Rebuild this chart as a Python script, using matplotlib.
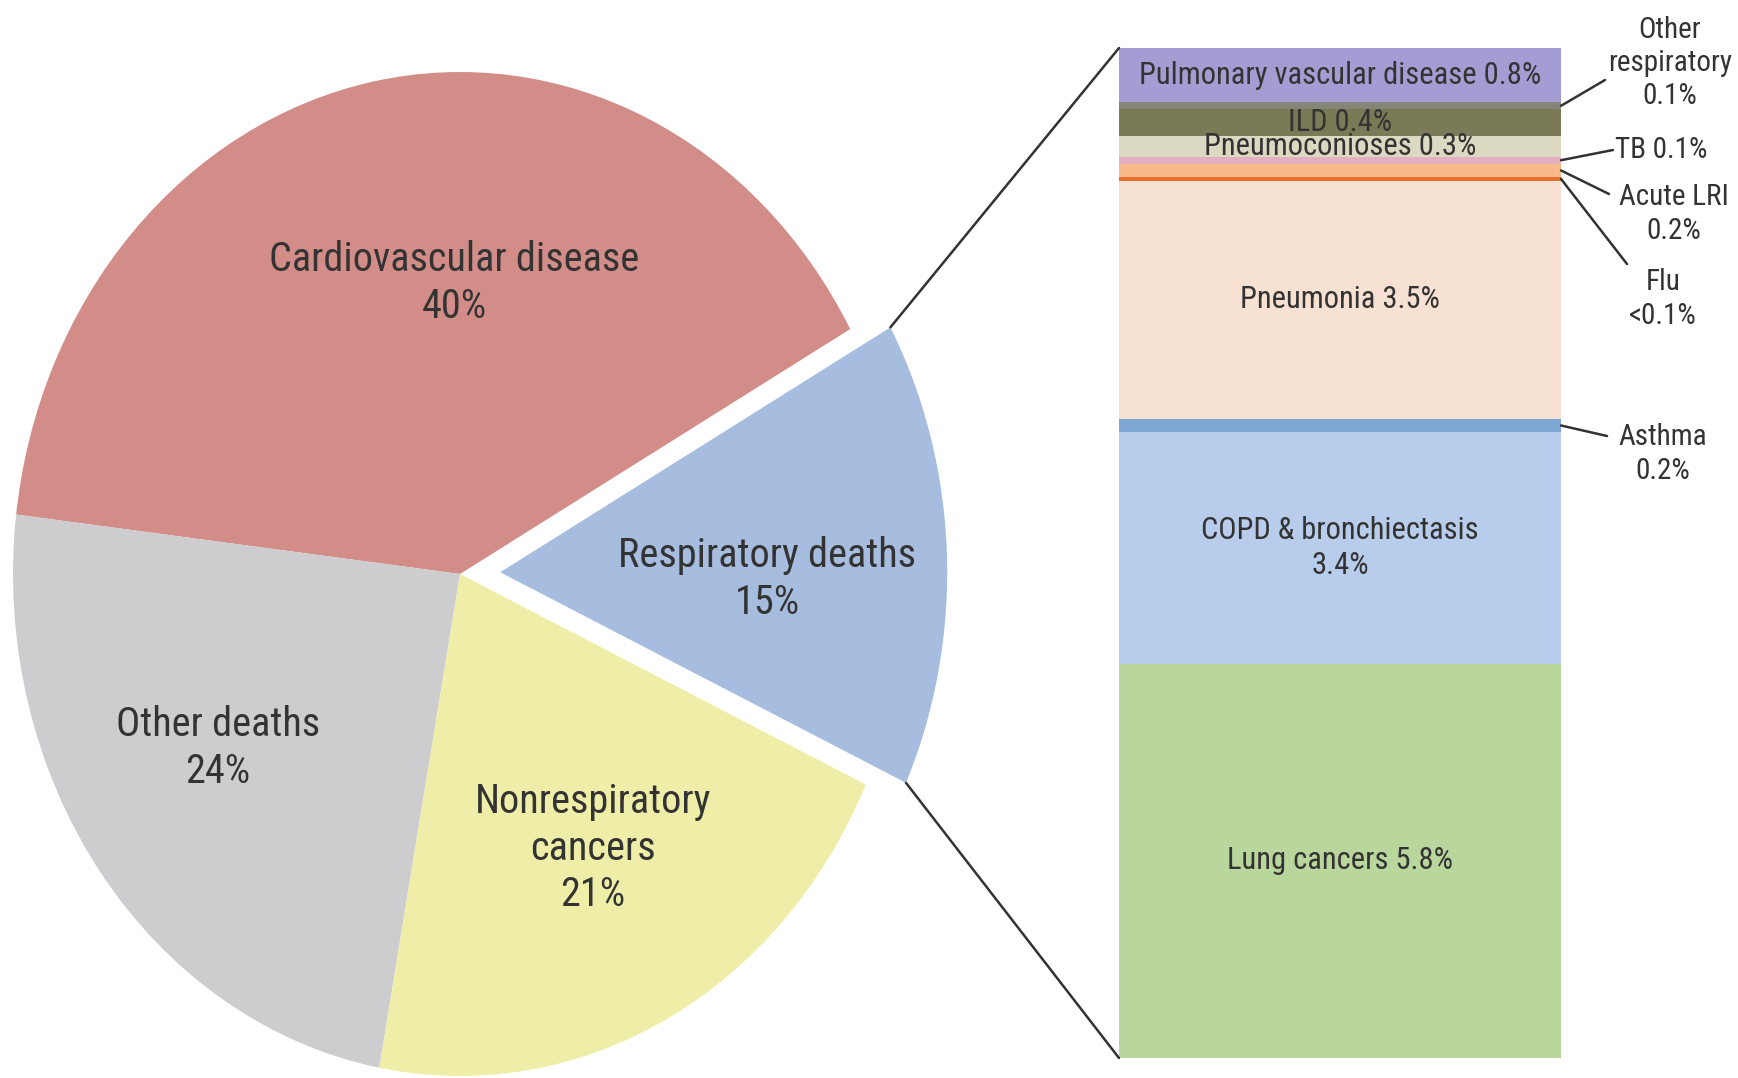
import numpy as np
import matplotlib
matplotlib.use("Agg")
import matplotlib.pyplot as plt
from matplotlib import font_manager
from matplotlib.patches import ConnectionPatch

# main pie
pie_labels = ["Cardiovascular disease\n40%", "Other deaths\n24%",
              "Nonrespiratory\ncancers\n21%", "Respiratory deaths\n15%"]
pie_values = [40, 24, 21, 15]
pie_colors = ["#d38d88", "#cdcdcf", "#efeea8", "#a7bddf"]

# respiratory breakdown, bottom to top
resp_names = ["Lung cancers", "COPD & bronchiectasis", "Asthma", "Pneumonia", "Flu",
              "Acute LRI", "TB", "Pneumoconioses", "ILD", "Other respiratory",
              "Pulmonary vascular disease"]
resp_values = [5.8, 3.4, 0.2, 3.5, 0.05, 0.2, 0.1, 0.3, 0.4, 0.1, 0.8]
resp_text = ["Lung cancers 5.8%", "COPD & bronchiectasis\n3.4%", "Asthma\n0.2%",
             "Pneumonia 3.5%", "Flu\n<0.1%", "Acute LRI\n0.2%", "TB 0.1%",
             "Pneumoconioses 0.3%", "ILD 0.4%", "Other\nrespiratory\n0.1%",
             "Pulmonary vascular disease 0.8%"]
resp_colors = ["#b9d69d", "#b8cdeb", "#7fa7d6", "#f7e1d2", "#e8702c", "#f8b98b",
               "#e2b0c0", "#dcd9c3", "#7b7a57", "#85857a", "#a49dd3"]
outside = ["Asthma", "Flu", "Acute LRI", "TB", "Other respiratory"]

names = {f.name for f in font_manager.fontManager.ttflist}
narrow = [n for n in ["Roboto Condensed", "Liberation Sans Narrow", "Open Sans Condensed"]
          if n in names]
plt.rcParams["font.family"] = narrow[0] if narrow else "DejaVu Sans"
plt.rcParams["font.stretch"] = "condensed"
tc = "#333333"

W, H = 1738, 1078
fig = plt.figure(figsize=(W / 100, H / 100), dpi=100)
fig.patch.set_facecolor("white")

def fpos(px, py):
    return px / W, 1 - py / H

# pie (elliptical: centre 460,574 px, radii 447 x 502 px)
cx, cy, rx, ry = 460, 574, 447, 502
ax = fig.add_axes([0, 0, 1000 / W, 1])
ax.pie(pie_values, colors=pie_colors, startangle=29.2, explode=[0, 0, 0, 0.09],
       wedgeprops=dict(linewidth=0))
ax.set_aspect("auto")
ax.set_xlim(-cx / rx, (1000 - cx) / rx)
ax.set_ylim(-(H - cy) / ry, cy / ry)

pie_pos = [(454, 283), (218, 748), (593, 848), (767, 579)]
for lab, (px, py) in zip(pie_labels, pie_pos):
    fig.text(*fpos(px, py), lab, ha="center", va="center", fontsize=29,
             color=tc, linespacing=1.25)

# stacked bar
total = sum(resp_values)
bx = fig.add_axes([1119 / W, 1 - 1058 / H, (1561 - 1119) / W, (1058 - 48) / H])
bottoms = np.concatenate([[0], np.cumsum(resp_values)[:-1]])
bx.bar(0, resp_values, bottom=bottoms, width=1, color=resp_colors, linewidth=0)
bx.set_xlim(-0.5, 0.5)
bx.set_ylim(0, total)
bx.axis("off")

for name, txt, v, b in zip(resp_names, resp_text, resp_values, bottoms):
    if name in outside:
        continue
    bx.text(0, b + v / 2, txt, ha="center", va="center", fontsize=22, color=tc,
            linespacing=1.25)

# leader lines for the thin segments
lead_end = {"Other respiratory": (1605, 80), "TB": (1613, 150), "Acute LRI": (1609, 194),
            "Flu": (1627, 264), "Asthma": (1607, 436)}
lead_text = {"Other respiratory": (1670, 63, "center"), "TB": (1615, 150, "left"),
             "Acute LRI": (1674, 214, "center"), "Flu": (1663, 299, "center"),
             "Asthma": (1663, 454, "center")}
for name, txt, v, b in zip(resp_names, resp_text, resp_values, bottoms):
    if name not in outside:
        continue
    ex, ey = lead_end[name]
    con = ConnectionPatch(xyA=(0.5, b + v / 2), coordsA=bx.transData,
                          xyB=fpos(ex, ey), coordsB=fig.transFigure,
                          color="#333333", lw=1.8)
    fig.add_artist(con)
    tx, ty, ha = lead_text[name]
    fig.text(*fpos(tx, ty), txt, ha=ha, va="center", fontsize=21, color=tc,
             linespacing=1.25)

# lines from exploded wedge to the bar
a1 = np.deg2rad(29.2)
a0 = np.deg2rad(29.2 - 360 * pie_values[3] / 100)
mid = (a0 + a1) / 2
ox, oy = 0.09 * np.cos(mid), 0.09 * np.sin(mid)
for ang, yb in [(a1, total), (a0, 0)]:
    con = ConnectionPatch(xyA=(ox + np.cos(ang), oy + np.sin(ang)), coordsA=ax.transData,
                          xyB=(-0.5, yb), coordsB=bx.transData, color="#333333", lw=1.8)
    fig.add_artist(con)

fig.savefig("out.png", dpi=100, facecolor="white")
